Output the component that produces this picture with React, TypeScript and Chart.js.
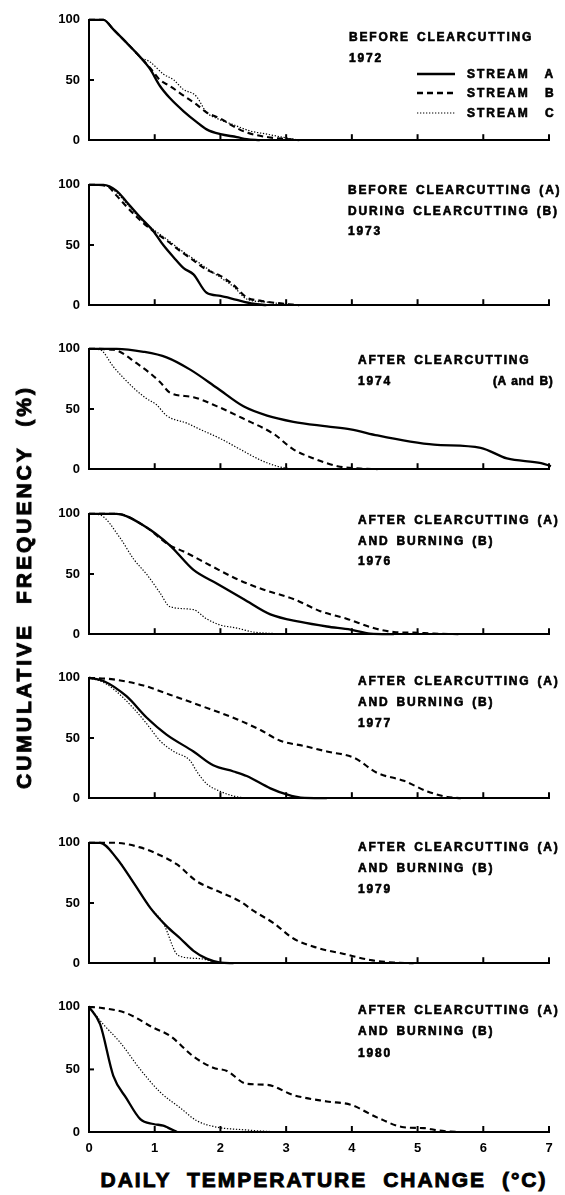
import React, { useEffect, useRef } from "react";
import { Chart, registerables } from "chart.js";

Chart.register(...registerables);

// ---------- data (x = daily temperature change °C, y = cumulative frequency %) ----------
const X_TICKS = [0, 1, 2, 3, 4, 5, 6, 7];
const Y_TICKS = [0, 50, 100];

const A1972 = [[0, 100], [0.22, 100], [0.37, 92], [0.57, 81], [0.78, 69], [0.93, 59], [1.08, 45], [1.23, 35], [1.44, 24], [1.64, 15], [1.79, 9], [2.0, 5], [2.25, 2.6], [2.4, 0.8], [2.6, 0]];
const B1972 = [[0, 100], [0.22, 100], [0.37, 92], [0.57, 81], [0.78, 69], [0.93, 60], [1.08, 50], [1.23, 45], [1.44, 37], [1.64, 29.5], [1.79, 23], [2.0, 18], [2.2, 11.5], [2.4, 6.4], [2.71, 2.6], [3.01, 0.9], [3.2, 0]];
const C1972 = [[0, 100], [0.22, 100], [0.37, 92], [0.57, 81], [0.78, 69], [0.93, 65], [1.13, 55], [1.29, 50], [1.44, 42], [1.59, 38.5], [1.64, 36], [1.79, 23], [1.95, 18], [2.2, 12.8], [2.45, 7.7], [2.71, 5], [3.01, 1.8], [3.22, 0]];

const A1973 = [[0, 100], [0.22, 100], [0.42, 95], [0.57, 86], [0.78, 73], [0.98, 61.5], [1.13, 50], [1.29, 39.7], [1.44, 30.8], [1.59, 25.6], [1.79, 10.3], [2.0, 7.7], [2.25, 4.4], [2.5, 1.3], [2.7, 0]];
const B1973 = [[0, 100], [0.27, 99], [0.42, 91], [0.57, 82], [0.78, 70.5], [0.98, 61.5], [1.18, 53.8], [1.39, 44.9], [1.59, 37.2], [1.79, 29.5], [2.0, 24.4], [2.2, 16.7], [2.4, 6.4], [2.6, 3.8], [2.86, 1.8], [3.1, 0.5], [3.2, 0]];
const C1973 = [[0, 100], [0.27, 99], [0.42, 93.6], [0.57, 84.6], [0.78, 71.8], [0.98, 62.8], [1.18, 55], [1.39, 46], [1.59, 38.5], [1.79, 30.8], [2.0, 23], [2.2, 15.4], [2.4, 5.1], [2.71, 2.6], [3.0, 0.8], [3.2, 0]];

const A1974 = [[0, 100], [0.42, 100], [0.83, 97.5], [1.18, 92.9], [1.54, 82.7], [1.95, 67.4], [2.35, 52.2], [2.71, 44.5], [3.11, 39.4], [3.62, 35.6], [3.98, 33.1], [4.39, 28], [4.89, 22.9], [5.25, 20.4], [5.96, 17.8], [6.36, 8.9], [6.88, 5.1], [7.03, 2.5], [7.18, 0]];
const B1974 = [[0, 100], [0.37, 99.2], [0.73, 87.8], [1.08, 72.5], [1.23, 63.6], [1.59, 59.8], [1.95, 52.2], [2.35, 42], [2.81, 29.3], [3.11, 16.5], [3.42, 8.9], [3.78, 2.5], [4.13, 0.5], [4.39, 0]];
const C1974 = [[0, 100], [0.17, 99.2], [0.37, 85.2], [0.68, 67.4], [0.88, 58.5], [1.03, 53.4], [1.18, 44.5], [1.49, 38.2], [1.69, 33.1], [2.0, 25.4], [2.3, 16.5], [2.61, 7.6], [2.86, 2.5], [3.06, 0.5], [3.2, 0]];

const A1976 = [[0, 100], [0.42, 100], [0.83, 90.3], [1.23, 73.8], [1.59, 53.4], [1.95, 42], [2.35, 29.3], [2.76, 16.5], [3.22, 10.2], [3.62, 6.4], [3.98, 3.8], [4.28, 0.5], [4.64, 0]];
const B1976 = [[0, 100], [0.42, 100], [0.83, 90.3], [1.23, 73.8], [1.44, 68.7], [1.84, 57.3], [2.25, 45.8], [2.66, 36.9], [3.11, 29.3], [3.52, 19.1], [3.93, 12.7], [4.33, 5.1], [4.64, 1.8], [4.94, 1.3], [5.25, 0.5], [5.66, 0]];
const C1976 = [[0, 100], [0.17, 99], [0.47, 80.2], [0.68, 62.3], [0.88, 49.6], [1.08, 34.4], [1.23, 22.9], [1.59, 20.4], [1.79, 12.7], [2.0, 7.6], [2.25, 5.1], [2.5, 1.8], [2.86, 0.5], [3.11, 0]];

const A1977 = [[0, 100], [0.22, 97.4], [0.57, 84.7], [0.88, 66.8], [1.18, 52.8], [1.59, 38.8], [1.89, 27.3], [2.2, 22.2], [2.4, 18.4], [2.76, 8.2], [3.01, 3.1], [3.22, 0.5], [3.62, 0]];
const B1977 = [[0, 100], [0.37, 98.7], [0.83, 93.6], [1.23, 86], [1.69, 77], [2.25, 65.6], [2.61, 56.6], [2.91, 47.7], [3.27, 43.4], [3.62, 38.8], [4.03, 33.7], [4.39, 20.9], [4.79, 14.5], [5.15, 5.6], [5.45, 1], [5.66, 0]];
const C1977 = [[0, 100], [0.22, 96.2], [0.42, 88.5], [0.68, 74.5], [0.88, 61.7], [1.08, 47.7], [1.29, 38.8], [1.54, 31.1], [1.64, 22.2], [1.79, 12], [2.0, 5.6], [2.2, 1.8], [2.4, 0]];

const A1979 = [[0, 100], [0.17, 100], [0.42, 87.2], [0.68, 66.7], [0.93, 46.2], [1.18, 30.8], [1.39, 20.5], [1.59, 10.3], [1.79, 3.8], [2.0, 0.5], [2.2, 0]];
const B1979 = [[0, 100], [0.37, 100], [0.78, 96.2], [1.08, 89.7], [1.34, 82], [1.64, 68], [1.89, 61.5], [2.3, 51.3], [2.5, 43.6], [2.81, 33.3], [3.11, 20.5], [3.47, 12.8], [3.88, 7.7], [4.28, 2.6], [4.64, 0.5], [4.94, 0]];
const C1979 = [[0, 100], [0.17, 100], [0.42, 87.2], [0.68, 66.7], [0.93, 46.2], [1.13, 33.3], [1.36, 6.4], [1.69, 3.8], [1.95, 0.5], [2.1, 0]];

const A1980 = [[0, 100], [0.17, 85.9], [0.37, 44.9], [0.57, 26.9], [0.78, 10.3], [0.98, 6.4], [1.13, 5.1], [1.2, 3.5], [1.34, 0]];
const B1980 = [[0, 100], [0.17, 99.2], [0.57, 94.9], [0.98, 83.3], [1.23, 76.9], [1.59, 60.3], [1.89, 51.3], [2.1, 48.7], [2.4, 38.5], [2.71, 37.7], [3.11, 29.5], [3.62, 24.4], [3.98, 21.8], [4.39, 11.5], [4.79, 3.8], [5.1, 3.1], [5.3, 1.3], [5.6, 0]];
const C1980 = [[0, 100], [0.22, 85.9], [0.47, 71.8], [0.78, 50], [1.08, 32], [1.39, 19.2], [1.64, 9], [1.95, 3.8], [2.35, 1.8], [2.71, 0.5], [3.01, 0]];

const LABELS_1972 = ["BEFORE CLEARCUTTING", "1972"];
const LABELS_1973 = ["BEFORE CLEARCUTTING (A)", "DURING CLEARCUTTING (B)", "1973"];
const LABELS_1974 = ["AFTER CLEARCUTTING", "1974"];
const LABELS_1976 = ["AFTER CLEARCUTTING (A)", "AND BURNING (B)", "1976"];
const LABELS_1977 = ["AFTER CLEARCUTTING (A)", "AND BURNING (B)", "1977"];
const LABELS_1979 = ["AFTER CLEARCUTTING (A)", "AND BURNING (B)", "1979"];
const LABELS_1980 = ["AFTER CLEARCUTTING (A)", "AND BURNING (B)", "1980"];
const SERIES_NAMES = ["STREAM A", "STREAM B", "STREAM C"];
const Y_TITLE = "CUMULATIVE FREQUENCY (%)";
const X_TITLE = "DAILY TEMPERATURE CHANGE (°C)";

const PANELS = [
  { a: A1972, b: B1972, c: C1972, labels: LABELS_1972 },
  { a: A1973, b: B1973, c: C1973, labels: LABELS_1973 },
  { a: A1974, b: B1974, c: C1974, labels: LABELS_1974 },
  { a: A1976, b: B1976, c: C1976, labels: LABELS_1976 },
  { a: A1977, b: B1977, c: C1977, labels: LABELS_1977 },
  { a: A1979, b: B1979, c: C1979, labels: LABELS_1979 },
  { a: A1980, b: B1980, c: C1980, labels: LABELS_1980 },
];

// ---------- layout ----------
const W = 565;
const PAD_TOP = 12;
const PLOT_H = 130;
const Y_AXIS_W = 89;
const PAD_RIGHT = 16;
const panelTop = (i: number) => Math.round(15 + i * 164.5);
const FONT = "'Liberation Sans', Arial, Helvetica, sans-serif";

const textStyle: React.CSSProperties = {
  position: "absolute",
  fontFamily: FONT,
  fontWeight: 700,
  fontSize: 12,
  letterSpacing: 1.8,
  wordSpacing: 2,
  lineHeight: "14px",
  whiteSpace: "nowrap",
  color: "#000",
  WebkitTextStroke: "0.6px #000",
};

const innerTicks = {
  id: "innerTicks",
  afterDraw(chart: any) {
    const { ctx, chartArea, scales } = chart;
    const x = scales.x;
    const y = scales.y;
    ctx.save();
    ctx.strokeStyle = "#000";
    ctx.lineWidth = 2;
    X_TICKS.slice(1).forEach((v) => {
      const px = x.getPixelForValue(v);
      ctx.beginPath();
      ctx.moveTo(px, chartArea.bottom);
      ctx.lineTo(px, chartArea.bottom - 6);
      ctx.stroke();
    });
    const py = y.getPixelForValue(50);
    ctx.beginPath();
    ctx.moveTo(chartArea.left, py);
    ctx.lineTo(chartArea.left + 5, py);
    ctx.stroke();
    ctx.restore();
  },
};

function Panel({ index }: { index: number }) {
  const ref = useRef<HTMLCanvasElement | null>(null);
  const p = PANELS[index];
  const isLast = index === PANELS.length - 1;
  const xH = isLast ? 30 : 12;
  const H = PAD_TOP + PLOT_H + xH;
  useEffect(() => {
    if (!ref.current) return;
    const toPts = (arr: number[][]) => arr.map(([x, y]) => ({ x, y }));
    const tickFont = { family: FONT, weight: "bold" as const, size: 13 };
    const chart = new Chart(ref.current, {
      type: "line",
      data: {
        datasets: [
          { data: toPts(p.a), borderColor: "#000", borderWidth: 2.3, pointRadius: 0, clip: false as any, cubicInterpolationMode: "monotone" },
          { data: toPts(p.b), borderColor: "#000", borderWidth: 2.1, borderDash: [6, 4], pointRadius: 0, clip: false as any, cubicInterpolationMode: "monotone" },
          { data: toPts(p.c), borderColor: "#000", borderWidth: 1.2, borderDash: [1.3, 1.7], pointRadius: 0, clip: false as any, cubicInterpolationMode: "monotone" },
        ],
      },
      options: {
        animation: false,
        responsive: false,
        events: [],
        layout: { padding: { top: PAD_TOP, right: PAD_RIGHT, bottom: 0, left: 0 } },
        plugins: { legend: { display: false }, tooltip: { enabled: false } },
        scales: {
          x: {
            type: "linear",
            min: 0,
            max: 7,
            afterBuildTicks: (s: any) => { s.ticks = X_TICKS.map((v) => ({ value: v })); },
            ticks: { display: isLast, font: tickFont, color: "#000", padding: 9, maxRotation: 0 },
            grid: { display: false, drawTicks: false },
            border: { display: true, color: "#000", width: 2 },
            afterFit: (s: any) => { s.height = xH; },
          },
          y: {
            min: 0,
            max: 100,
            afterBuildTicks: (s: any) => { s.ticks = Y_TICKS.map((v) => ({ value: v })); },
            ticks: { font: tickFont, color: "#000", padding: 9 },
            grid: { display: false, drawTicks: false },
            border: { display: true, color: "#000", width: 2 },
            afterFit: (s: any) => { s.width = Y_AXIS_W; },
          },
        },
      } as any,
      plugins: [innerTicks],
    });
    return () => chart.destroy();
  }, [index]);
  return (
    <canvas
      ref={ref}
      width={W}
      height={H}
      style={{ position: "absolute", left: 0, top: panelTop(index) - PAD_TOP, width: W, height: H }}
    />
  );
}

const LABEL_POS = [
  { x: 349, ys: [37, 58] },
  { x: 348, ys: [190, 211, 231] },
  { x: 358, ys: [360, 381] },
  { x: 358, ys: [520, 541, 561] },
  { x: 358, ys: [681, 702, 723] },
  { x: 358, ys: [847, 868, 889] },
  { x: 358, ys: [1010, 1031, 1053] },
];

function LegendSample({ kind }: { kind: number }) {
  const dash = kind === 0 ? undefined : kind === 1 ? "6 4" : "1.3 1.7";
  const sw = kind === 2 ? 1.2 : 2.3;
  return (
    <svg width={38} height={6} style={{ position: "absolute", left: 417, top: -3 }}>
      <line x1={0} y1={3} x2={38} y2={3} stroke="#000" strokeWidth={sw} strokeDasharray={dash} />
    </svg>
  );
}

export default function App() {
  const legendY = [74, 93, 113];
  return (
    <div style={{ position: "absolute", left: 0, top: 0, width: W, height: 1195, background: "#fff", overflow: "hidden" }}>
      {PANELS.map((_, i) => (
        <Panel key={i} index={i} />
      ))}
      {PANELS.map((p, i) =>
        p.labels.map((t, j) => (
          <div key={`${i}-${j}`} style={{ ...textStyle, left: LABEL_POS[i].x, top: LABEL_POS[i].ys[j] - 7 }}>
            {t}
          </div>
        ))
      )}
      <div style={{ ...textStyle, left: 493, top: 381 - 7, letterSpacing: 0.6, wordSpacing: 1 }}>(A and B)</div>
      {SERIES_NAMES.map((s, k) => (
        <div key={s} style={{ position: "absolute", left: 0, top: legendY[k], width: W, height: 0 }}>
          <LegendSample kind={k} />
          <div style={{ ...textStyle, left: 467, top: -7, letterSpacing: 2, wordSpacing: 10 }}>{s}</div>
        </div>
      ))}
      <div
        style={{
          ...textStyle,
          fontSize: 21,
          lineHeight: "24px",
          letterSpacing: 3,
          wordSpacing: 10,
          left: 24,
          top: 587,
          transform: "translate(-50%, -50%) rotate(-90deg)",
          WebkitTextStroke: "0.9px #000",
        }}
      >
        {Y_TITLE}
      </div>
      <div
        style={{
          ...textStyle,
          fontSize: 21,
          lineHeight: "24px",
          letterSpacing: 2,
          wordSpacing: 8,
          left: 324,
          top: 1180,
          transform: "translate(-50%, -50%)",
          WebkitTextStroke: "0.9px #000",
        }}
      >
        {X_TITLE}
      </div>
    </div>
  );
}
